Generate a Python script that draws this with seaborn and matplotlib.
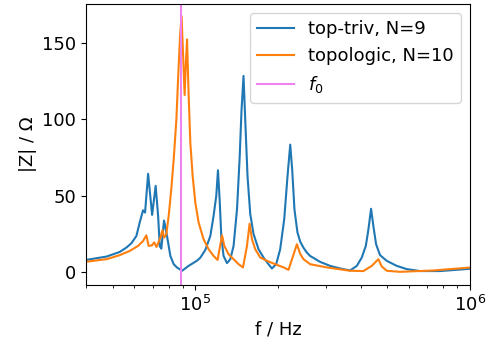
import numpy as np
import pandas as pd
import matplotlib
matplotlib.use("Agg")
import matplotlib.pyplot as plt
from matplotlib.ticker import MultipleLocator
import seaborn as sns

# ---- data, frequency in kHz, |Z| in Ohm ----
triv_f_khz = [40.0, 47.5, 53.0, 56.1, 58.5, 61.0, 62.7, 64.5, 65.6, 67.3, 69.6, 71.7, 73.2, 74.2,
              75.2, 76.9, 77.9, 79.6, 81.1, 83.4, 85.8, 89.5, 94.5, 101.4, 104.3, 108.7, 113.4,
              116.5, 119.2, 120.9, 122.6, 124.3, 126.7, 130.4, 134.1, 137.8, 141.8, 144.9,
              147.3, 149.8, 152.3, 154.9, 158.5, 162.9, 169.9, 177.1, 184.7, 190.1, 197.0,
              203.7, 210.7, 216.6, 221.6, 225.3, 229.6, 235.5, 240.9, 247.6, 254.8, 261.9,
              284.8, 309.7, 336.7, 366.2, 387.3, 403.9, 417.7, 426.9, 436.5, 445.0, 455.2,
              470.7, 497.9, 541.3, 588.6, 657.9, 777.9, 1000.0]
triv_z = [8.0, 10.2, 13.2, 16.1, 18.9, 23.7, 32.4, 40.5, 39.0, 64.4, 37.5, 56.5, 36.7, 17.0,
          15.4, 33.8, 29.0, 19.4, 10.6, 5.2, 3.0, 0.9, 4.1, 7.5, 9.5, 14.5, 23.7,
          36.7, 50.0, 66.7, 47.6, 23.7, 10.6, 5.9, 8.5, 17.2, 41.0, 73.7,
          106.0, 128.5, 95.4, 62.8, 38.0, 25.0, 15.0, 9.6, 5.2, 2.4, 5.2,
          15.0, 34.6, 62.8, 83.5, 67.0, 41.0, 25.9, 20.0, 16.0, 12.8, 10.6,
          6.7, 4.1, 2.4, 1.1, 4.1, 9.6, 17.2, 28.0, 41.5, 30.2, 18.3,
          11.1, 7.4, 4.1, 2.0, 0.7, 0.7, 2.2]

topo_f_khz = [40.0, 47.5, 53.0, 57.7, 61.9, 64.5, 66.3, 67.6, 69.6, 70.8, 72.2, 74.6, 75.9, 76.9,
              78.4, 80.1, 81.8, 83.5, 85.3, 86.7, 88.0, 89.1, 90.4, 91.4, 92.5, 93.3, 94.5,
              95.9, 97.8, 100.0, 102.8, 107.2, 111.8, 116.5, 120.5, 125.1, 127.5, 132.2,
              137.8, 143.7, 149.1, 154.2, 157.6, 160.8, 165.3, 172.3, 182.3, 195.4, 209.5,
              218.4, 234.4, 240.9, 247.6, 261.9, 301.2, 366.2, 409.3, 439.1, 464.0, 477.4,
              497.9, 556.6, 735.5, 1000.0]
topo_z = [6.8, 8.5, 11.1, 13.9, 17.2, 20.4, 24.1, 17.2, 17.6, 19.5, 16.5, 22.6, 27.5, 22.6,
          24.8, 38.0, 55.0, 75.0, 100.0, 130.0, 155.0, 167.6, 139.0, 116.0, 139.0, 152.4, 117.0,
          84.6, 62.8, 45.4, 32.4, 21.5, 15.0, 10.6, 8.0, 24.1, 17.2, 11.7,
          8.5, 5.2, 3.1, 17.2, 31.7, 21.5, 15.0, 9.6, 7.4, 5.2, 3.1,
          1.5, 18.3, 12.0, 8.5, 5.2, 3.1, 0.9, 0.7, 4.1, 8.5, 3.7,
          0.9, 0.2, 1.1, 3.0]

f0_hz = 8.9e4
labels = ["top-triv, N=9", "topologic, N=10", "$f_0$"]

plt.rcParams["font.size"] = 13

fig, ax = plt.subplots(figsize=(4.89, 3.45), dpi=100)
fig.subplots_adjust(left=0.176, right=0.961, top=0.988, bottom=0.174)

df_triv = pd.DataFrame({"f": np.array(triv_f_khz) * 1e3, "Z": triv_z})
df_topo = pd.DataFrame({"f": np.array(topo_f_khz) * 1e3, "Z": topo_z})

sns.lineplot(data=df_triv, x="f", y="Z", ax=ax, color="#1f77b4", linewidth=1.5,
             label=labels[0], sort=False, estimator=None)
sns.lineplot(data=df_topo, x="f", y="Z", ax=ax, color="#ff7f0e", linewidth=1.5,
             label=labels[1], sort=False, estimator=None)
ax.axvline(f0_hz, color="violet", linewidth=1.5, label=labels[2])

ax.set_xscale("log")
ax.set_xlim(4e4, 1e6)
ax.set_ylim(-8.4, 175.5)
ax.yaxis.set_major_locator(MultipleLocator(50))
ax.set_xlabel("f / Hz")
ax.set_ylabel("|Z| / Ω")
ax.legend(loc="upper right")

fig.savefig("out.png", dpi=100)
